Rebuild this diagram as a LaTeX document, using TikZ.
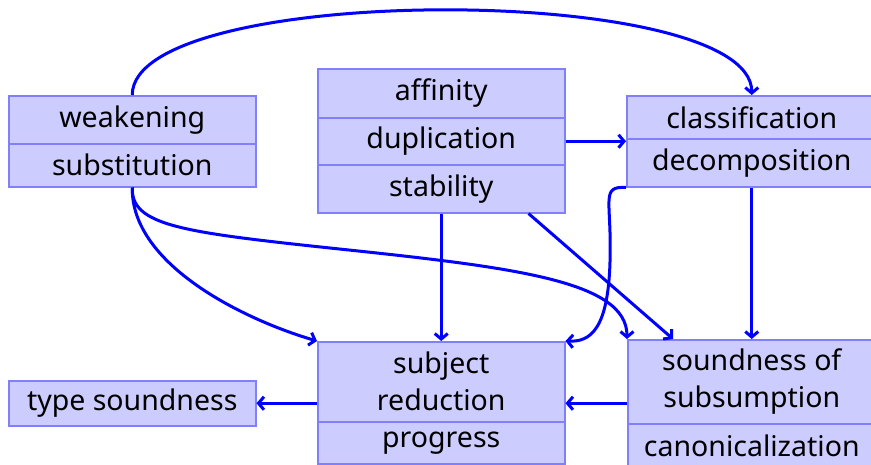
\documentclass[tikz,border=0pt]{standalone}
\usepackage{fontspec}
\setmainfont{Noto Sans}
\usetikzlibrary{arrows.meta,calc}
\tikzset{
  cell/.style={draw=blue!50, fill=blue!20, line width=1.5pt, inner sep=0pt,
    anchor=north west, align=center, font=\fontsize{28.5}{37}\selectfont},
  arr/.style={draw=blue, line width=3pt, -{Straight Barb[length=5.5pt,width=13pt]}},
}
\begin{document}
\begin{tikzpicture}[x=1pt,y=-1pt]
\useasboundingbox (0,0) rectangle (871,464);
% weakening / substitution
\node[cell, minimum width=247pt, minimum height=48pt] (wk) at (8,95) {weakening};
\node[cell, minimum width=247pt, minimum height=43pt] (sub) at (8,143) {substitution};
% affinity / duplication / stability
\node[cell, minimum width=247pt, minimum height=49pt] (aff) at (317,68) {affinity};
\node[cell, minimum width=247pt, minimum height=47pt] (dup) at (317,117) {duplication};
\node[cell, minimum width=247pt, minimum height=48pt] (stab) at (317,164) {stability};
% classification / decomposition
\node[cell, minimum width=250pt, minimum height=43pt] (cls) at (626,95) {classification};
\node[cell, minimum width=250pt, minimum height=48pt] (dec) at (626,138) {decomposition};
% subject reduction / progress
\node[cell, minimum width=247pt, minimum height=80pt] (subj) at (317,341) {subject\\reduction};
\node[cell, minimum width=247pt, minimum height=42pt] (prog) at (317,421) {progress};
% type soundness
\node[cell, minimum width=247pt, minimum height=45pt] (ts) at (8,380) {type soundness};
% soundness of subsumption / canonicalization
\node[cell, minimum width=248pt, minimum height=84pt] (sos) at (627,339) {soundness of\\subsumption};
\node[cell, minimum width=248pt, minimum height=44pt] (can) at (627,423) {canonicalization};
% connectors
\coordinate (m6) at (610,262);
\coordinate (m8) at (330,248);
\draw[arr] (wk.north) .. controls +(0,-113) and +(0,-113) .. (cls.north);
\draw[arr] (dup.east) -- (dup.east -| cls.west);
\draw[arr] (stab.south) -- (subj.north);
\draw[arr] ($(stab.south east)+(-37,0)$) -- ($(sos.north west)+(46,0)$);
\draw[arr] (dec.south) -- (sos.north);
\draw[arr] (dec.south west) .. controls (600,186) and (612,200) .. (m6)
  .. controls (608,330) and (590,342) .. (subj.north east);
\draw[arr] (sub.south) .. controls (131,265) and (245,320) .. (subj.north west);
\draw[arr] (sub.south) .. controls (131,225) and (180,232) .. (m8)
  .. controls (510,267) and (627,280) .. (sos.north west);
\draw[arr] (subj.west |- ts.east) -- (ts.east);
\draw[arr] (sos.west |- ts.east) -- (subj.east |- ts.east);
\end{tikzpicture}
\end{document}
